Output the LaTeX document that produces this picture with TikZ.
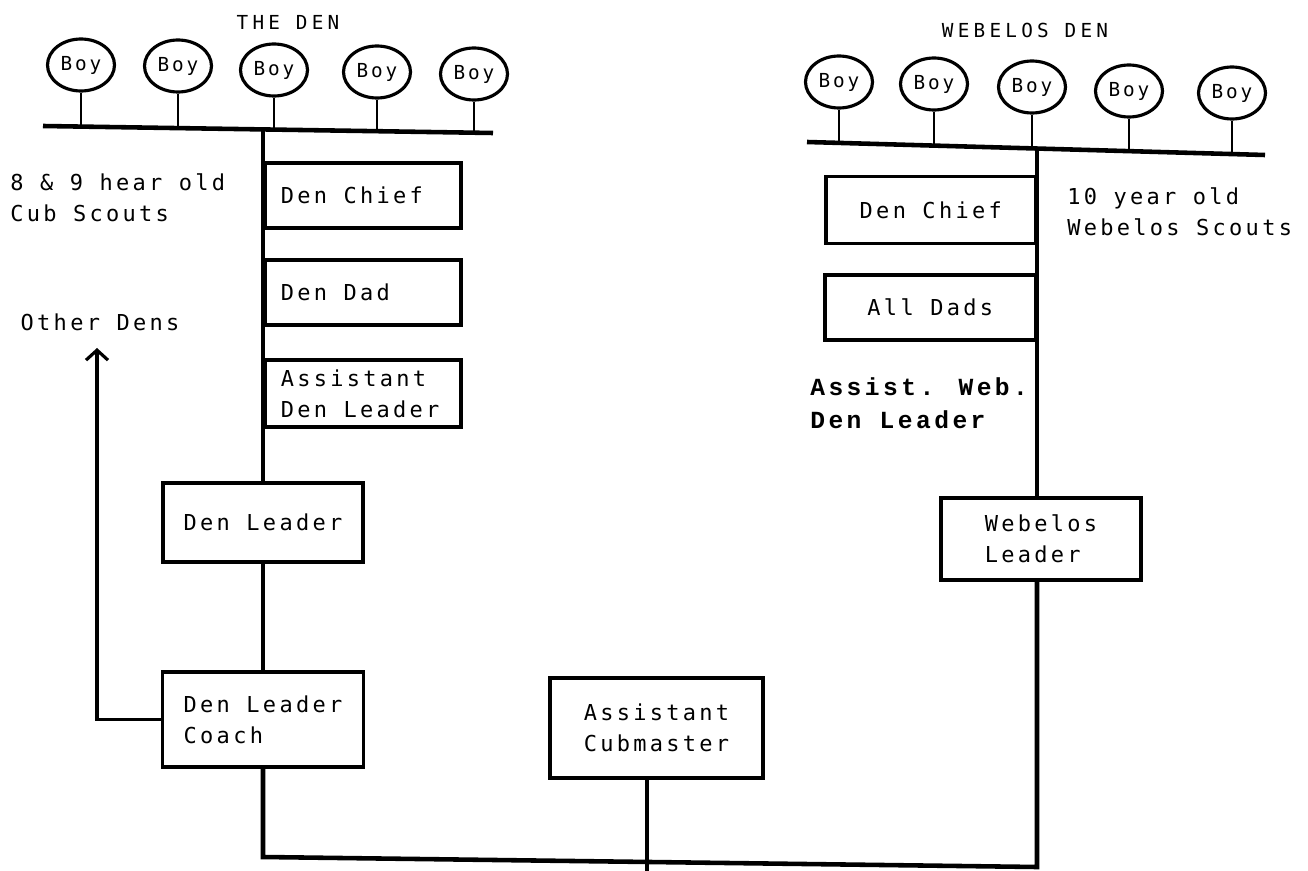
\documentclass[tikz,border=0pt]{standalone}
\usepackage{fontspec}
\usetikzlibrary{shapes.geometric, arrows.meta}

\newfontfamily\typefont[LetterSpace = 15]{DejaVu Sans Mono}
\newfontfamily\headfont[LetterSpace = 22]{DejaVu Sans Mono}
\newfontfamily\courfont[LetterSpace = 14]{Liberation Mono}

\newlength{\px}
\setlength{\px}{0.02cm}

\tikzset{
    boy/.style = {ellipse, draw, line width = 1.8pt, inner sep = 0pt,
      minimum width = 67\px, minimum height = 52\px,
      font = \typefont\fontsize{11}{13}\selectfont},
    post/.style = {draw, line width = 2pt, inner ysep = 0pt, align = left,
      font = \typefont\fontsize{12.5}{17.5}\selectfont},
    lpost/.style = {post, anchor = west, inner xsep = 16\px, text width = 164\px,
      align = flush left},
    note/.style = {inner sep = 0pt, align = left,
      font = \typefont\fontsize{12.5}{17.5}\selectfont},
    head/.style = {inner sep = 0pt, font = \headfont\fontsize{11}{13}\selectfont},
    bar/.style = {line width = 2.6pt},
    trunk/.style = {line width = 1.8pt},
    stem/.style = {line width = 1.3pt}
}

\begin{document}
\begin{tikzpicture}[x = \px, y = -\px]
    \useasboundingbox (0, 0) rectangle (1308, 871);

    % the den
    \node[head] (lhead) at (288, 22) {THE DEN};
    \foreach \x/\y/\b [count = \i] in {81/65/126.6, 178/66/128.1, 274/70/129.6,
        377/72/131.2, 474/74/132.7} {
      \node[boy] (lboy\i) at (\x, \y) {Boy};
      \coordinate (lfoot\i) at (\x, \b);
      \draw[stem] (lboy\i) -- (lfoot\i);
    }
    \coordinate (lbarw) at (43, 126);
    \coordinate (lbare) at (493, 133);
    \draw[bar] (lbarw) -- (lbare);
    \coordinate (ltop) at (263, 129.4);

    \node[note, anchor = west] (ages) at (10, 197.5) {8 \& 9 hear old\\Cub Scouts};
    \node[lpost, minimum height = 65\px] (lchief) at (263, 195.5) {Den Chief};
    \node[lpost, minimum height = 65\px] (ldad) at (263, 292.5) {Den Dad};
    \node[lpost, minimum height = 67\px] (lasst) at (263, 393.5) {Assistant\\Den Leader};
    \node[post, minimum width = 200\px, minimum height = 79\px] (lleader) at (263, 522.5) {Den Leader};
    \node[post, minimum width = 201\px, minimum height = 95\px] (coach) at (263, 719.5) {Den Leader\\Coach};
    \node[note] (others) at (100, 322) {Other Dens};
    \coordinate (otherend) at (97, 348);

    % webelos den
    \node[head] (rhead) at (1025, 30) {WEBELOS DEN};
    \foreach \x/\y/\b [count = \i] in {839/82/142.9, 934/84/145.6, 1032/87/148.4,
        1129/91/151.1, 1232/93/154.1} {
      \node[boy] (rboy\i) at (\x, \y) {Boy};
      \coordinate (rfoot\i) at (\x, \b);
      \draw[stem] (rboy\i) -- (rfoot\i);
    }
    \coordinate (rbarw) at (807, 142);
    \coordinate (rbare) at (1265, 155);
    \draw[bar] (rbarw) -- (rbare);
    \coordinate (rtop) at (1037, 148.4);

    \node[post, anchor = east, minimum width = 209\px, minimum height = 67\px] (rchief) at (1037, 210) {Den Chief};
    \node[note, anchor = west] (webages) at (1067, 211.5) {10 year old\\Webelos Scouts};
    \node[post, anchor = east, minimum width = 210\px, minimum height = 65\px] (dads) at (1037, 307.5) {All Dads};
    \node[note, anchor = west, font = \courfont\bfseries\fontsize{14}{18.7}\selectfont] (awdl) at (810, 403.5) {Assist. Web.\\Den Leader};
    \node[post, minimum width = 200\px, minimum height = 82\px] (wleader) at (1041, 539) {Webelos\\Leader};

    % pack
    \node[post, minimum width = 213\px, minimum height = 100\px] (acm) at (656.5, 728) {Assistant\\Cubmaster};
    \coordinate (lbot) at (263, 857);
    \coordinate (rbot) at (1037, 867);
    \coordinate (cmfoot) at (647, 871);

    \draw[trunk] (ltop) -- (lleader);
    \draw[trunk] (lleader) -- (coach);
    \draw[trunk, -{Straight Barb[length = 0.2cm, width = 0.44cm]}] (coach) -| (otherend);
    \draw[trunk] (rtop) -- (rtop |- wleader.north);
    \draw[bar] (coach) -- (lbot) -- (rbot) -- (rbot |- wleader.south);
    \draw[trunk] (cmfoot |- acm.south) -- (cmfoot);
\end{tikzpicture}
\end{document}
